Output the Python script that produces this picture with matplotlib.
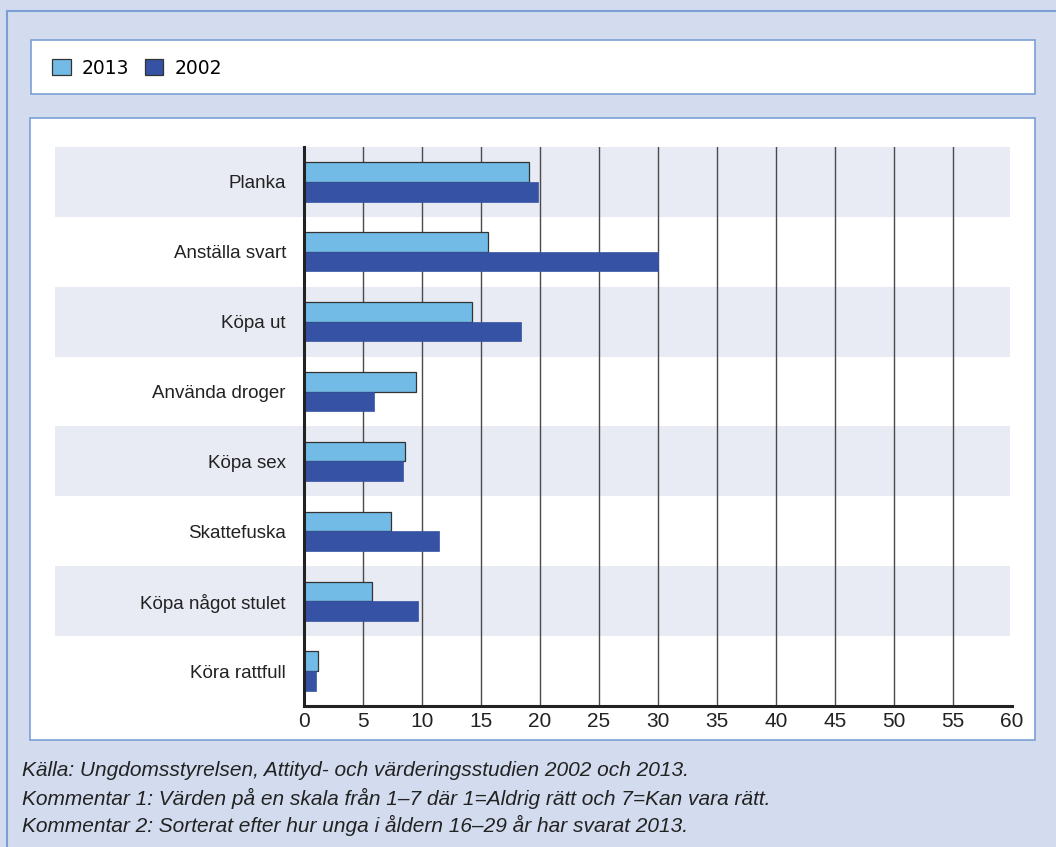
import matplotlib.pyplot as plt
from matplotlib.patches import Rectangle, Patch
import numpy as np

# Data
categories = ['Planka', 'Anställa svart', 'Köpa ut', 'Använda droger',
              'Köpa sex', 'Skattefuska', 'Köpa något stulet', 'Köra rattfull']
values_2013 = [19.1, 15.6, 14.2, 9.5, 8.6, 7.4, 5.8, 1.2]
values_2002 = [19.8, 30.0, 18.4, 5.9, 8.4, 11.4, 9.7, 1.0]
x_ticks = list(range(0, 61, 5))
footer_lines = [
    'Källa: Ungdomsstyrelsen, Attityd- och värderingsstudien 2002 och 2013.',
    'Kommentar 1: Värden på en skala från 1–7 där 1=Aldrig rätt och 7=Kan vara rätt.',
    'Kommentar 2: Sorterat efter hur unga i åldern 16–29 år har svarat 2013.',
]

c2013 = '#72bbe6'
c2002 = '#3652a4'
bg = '#d3dcee'
border = '#7b9fd4'

W, H = 1056, 847
fig = plt.figure(figsize=(W / 100, H / 100), dpi=100)
fig.patch.set_facecolor(bg)


def px_rect(x0, y0, x1, y1, **kw):
    # rectangle in figure pixel coordinates (y from top)
    r = Rectangle((x0 / W, 1 - y1 / H), (x1 - x0) / W, (y1 - y0) / H,
                  transform=fig.transFigure, zorder=-5, **kw)
    fig.patches.append(r)


# outer border, legend box, plot panel
px_rect(7, 11, 1070, 860, facecolor=bg, edgecolor=border, lw=1.5)
px_rect(31, 40, 1035, 94, facecolor='white', edgecolor=border, lw=1.2)
px_rect(30, 118, 1035, 740, facecolor='white', edgecolor=border, lw=1.2)

ax = fig.add_axes([304 / W, 1 - 706 / H, 708 / W, 559 / H])
ax.set_zorder(2)
ax.set_facecolor('none')

y = np.arange(len(categories))
h = 0.28
ax.barh(y - h / 2, values_2013, height=h, color=c2013, edgecolor='#333333',
        lw=0.9, zorder=3)
ax.barh(y + h / 2, values_2002, height=h, color=c2002, edgecolor=c2002,
        lw=0.5, zorder=3)

# alternating bands, extending left under the labels
for i in range(len(categories)):
    if i % 2 == 0:
        ax.add_patch(Rectangle((-0.352, i - 0.5), 1.349, 1.0,
                               transform=ax.get_yaxis_transform(),
                               facecolor='#e8eaf4', edgecolor='none',
                               clip_on=False, zorder=0))

ax.set_ylim(len(categories) - 0.5, -0.5)
ax.set_xlim(0, 60)
ax.set_yticks(y)
ax.set_yticklabels(categories, fontsize=13.5, family='Liberation Sans',
                   color='#222222')
ax.set_xticks(x_ticks)
ax.set_xticklabels([str(t) for t in x_ticks], fontsize=15,
                   family='Liberation Sans', color='#222222')
ax.tick_params(axis='y', length=0, pad=13)
ax.tick_params(axis='x', length=0, pad=4)

for t in x_ticks[1:-1]:
    ax.axvline(t, color='#4a4a4a', lw=1.0, zorder=1)

for s in ['top', 'right']:
    ax.spines[s].set_visible(False)
ax.spines['left'].set_linewidth(2.2)
ax.spines['bottom'].set_linewidth(2.2)
ax.spines['left'].set_color('#222222')
ax.spines['bottom'].set_color('#222222')
ax.spines['left'].set_zorder(4)

# legend
handles = [Patch(facecolor=c2013, edgecolor='#333333', lw=0.9),
           Patch(facecolor=c2002, edgecolor='#333333', lw=0.9)]
fig.legend(handles, ['2013', '2002'], loc='center left',
           bbox_to_anchor=(52 / W, 1 - 68 / H), ncol=2, frameon=False,
           borderpad=0, borderaxespad=0,
           handlelength=1.0, handleheight=1.0, handletextpad=0.6,
           columnspacing=0.8, prop={'family': 'DejaVu Sans', 'size': 13.5})

for i, line in enumerate(footer_lines):
    fig.text(22 / W, 1 - (771 + i * 27) / H, line, fontsize=15,
             style='italic', family='Liberation Sans',
             va='center', ha='left', color='#222222')

fig.savefig('out.png', dpi=100, facecolor=bg)
